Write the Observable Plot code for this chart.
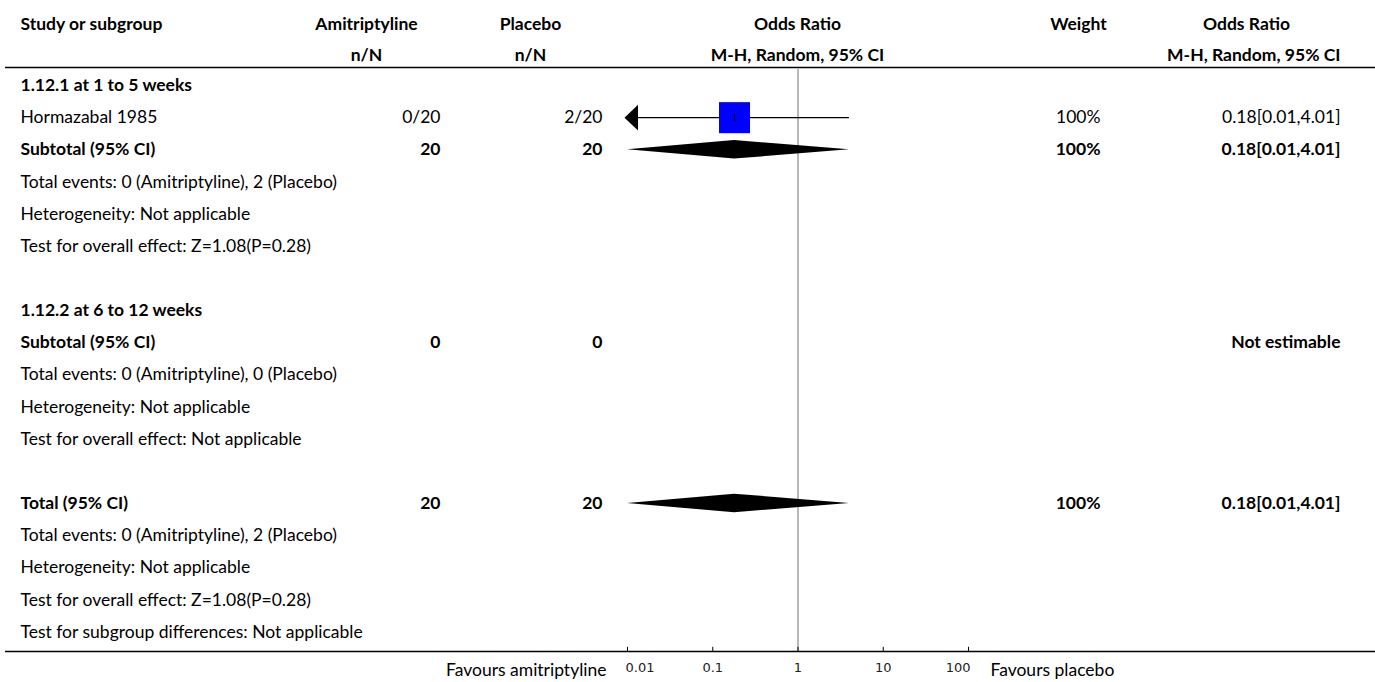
<!DOCTYPE html>
<html>
<head>
<meta charset="utf-8">
<script src="https://cdn.jsdelivr.net/npm/d3@7"></script>
<script src="https://cdn.jsdelivr.net/npm/@observablehq/plot@0.6"></script>
<style>
  html, body { margin: 0; padding: 0; background: #fff; }
  #chart svg { display: block; }
</style>
</head>
<body>
<div id="chart"></div>
<script>
// ---------- DATA ----------
const headerTop = ["Study or subgroup", "Amitriptyline", "Placebo", "Odds Ratio", "Weight", "Odds Ratio"];
const headerSub = ["", "n/N", "n/N", "M-H, Random, 95% CI", "", "M-H, Random, 95% CI"];

const rowLabels = [
  "1.12.1 at 1 to 5 weeks",
  "Hormazabal 1985",
  "Subtotal (95% CI)",
  "Total events: 0 (Amitriptyline), 2 (Placebo)",
  "Heterogeneity: Not applicable",
  "Test for overall effect: Z=1.08(P=0.28)",
  "",
  "1.12.2 at 6 to 12 weeks",
  "Subtotal (95% CI)",
  "Total events: 0 (Amitriptyline), 0 (Placebo)",
  "Heterogeneity: Not applicable",
  "Test for overall effect: Not applicable",
  "",
  "Total (95% CI)",
  "Total events: 0 (Amitriptyline), 2 (Placebo)",
  "Heterogeneity: Not applicable",
  "Test for overall effect: Z=1.08(P=0.28)",
  "Test for subgroup differences: Not applicable"
];
const rowBold = [true, false, true, false, false, false, false, true, true, false, false, false, false, true, false, false, false, false];
const amitriptylineCol = ["", "0/20", "20", "", "", "", "", "", "0", "", "", "", "", "20", "", "", "", ""];
const placeboCol       = ["", "2/20", "20", "", "", "", "", "", "0", "", "", "", "", "20", "", "", "", ""];
const weightCol        = ["", "100%", "100%", "", "", "", "", "", "", "", "", "", "", "100%", "", "", "", ""];
const orCol            = ["", "0.18[0.01,4.01]", "0.18[0.01,4.01]", "", "", "", "", "", "Not estimable", "", "", "", "", "0.18[0.01,4.01]", "", "", "", ""];

// studies (row index, odds ratio, CI, weight %)
const studyRows = [1];
const studyOR = [0.18];
const studyLo = [0.01];
const studyHi = [4.01];
const studyWeight = [100];

// pooled estimates (diamonds)
const pooledRows = [2, 13];
const pooledOR = [0.18, 0.18];
const pooledLo = [0.01, 0.01];
const pooledHi = [4.01, 4.01];

const tickValues = [0.01, 0.1, 1, 10, 100];
const tickLabels = ["0.01", "0.1", "1", "10", "100"];
const favoursLeft = "Favours amitriptyline";
const favoursRight = "Favours placebo";

// ---------- BUILD ----------
const xMin = 0.01, xMax = 100;
const rows = rowLabels.map((label, i) => ({
  i, label, bold: rowBold[i],
  ami: amitriptylineCol[i], pla: placeboCol[i], w: weightCol[i], or: orCol[i]
}));
const studies = studyRows.map((r, k) => ({row: r, or: studyOR[k], lo: studyLo[k], hi: studyHi[k], weight: studyWeight[k]}));
const pooled = pooledRows.map((r, k) => ({row: r, or: pooledOR[k], lo: pooledLo[k], hi: pooledHi[k]}));
const dh = 0.29; // diamond half height in row units
const diamondPts = pooled.flatMap((d, k) => [
  {id: k, x: d.lo, y1: d.row, y2: d.row},
  {id: k, x: d.or, y1: d.row - dh, y2: d.row + dh},
  {id: k, x: d.hi, y1: d.row, y2: d.row}
]);
const headers = headerTop.map((t, k) => ({k, top: t, sub: headerSub[k]}));
const ticks = tickValues.map((v, k) => ({v, label: tickLabels[k], k}));

const leftArrow = {
  draw(context) {
    context.moveTo(-7, 0);
    context.lineTo(6.5, -12.8);
    context.lineTo(6.5, 12.8);
    context.closePath();
  }
};

// column layout (pixel positions)
const colX = {study: 20, amiHead: 366, plaHead: 530, ami: 440, pla: 602, orHead: 797, wHead: 1078, w: 1100, orValHead: 1246, orVal: 1340};
const L = 5; // margin left
const font = "Lato, 'Source Sans Pro', 'Noto Sans', sans-serif";
const axisRow = 17.605;

const textL = (data, opts) => Plot.text(data, {frameAnchor: "left", fill: "#000", ...opts});
const colText = (key, px, anchor) => [
  textL(rows.filter(d => d[key] && !d.bold), {y: "i", text: key, dx: px - L, textAnchor: anchor}),
  textL(rows.filter(d => d[key] && d.bold), {y: "i", text: key, dx: px - L, textAnchor: anchor, fontWeight: "bold"})
];
const head = (k, field, y, px, anchor) =>
  textL(headers.filter(h => h.k === k && h[field]), {y, text: field, dx: px - L, textAnchor: anchor, fontWeight: "bold"});
const tickFont = {fontFamily: "DejaVu Sans", fontSize: "13px", fill: "#222"};

const chart = Plot.plot({
  width: 1375,
  height: 682,
  marginLeft: L,
  marginRight: 0,
  marginTop: 0,
  marginBottom: 0,
  style: {fontFamily: font, fontSize: "17.5px", color: "#000", background: "#fff"},
  x: {type: "log", domain: [xMin, xMax], range: [627, 968], axis: null},
  y: {type: "linear", domain: [0, 17], range: [85, 631.55], axis: null},
  r: {type: "sqrt", domain: [0, 100], range: [0, 17.5]},
  marks: [
    // header
    head(0, "top", -1.9, colX.study, "start"),
    head(1, "top", -1.9, colX.amiHead, "middle"),
    head(1, "sub", -0.95, colX.amiHead, "middle"),
    head(2, "top", -1.9, colX.plaHead, "middle"),
    head(2, "sub", -0.95, colX.plaHead, "middle"),
    head(3, "top", -1.9, colX.orHead, "middle"),
    head(3, "sub", -0.95, colX.orHead, "middle"),
    head(4, "top", -1.9, colX.wHead, "middle"),
    head(5, "top", -1.9, colX.orValHead, "middle"),
    head(5, "sub", -0.95, colX.orVal, "end"),
    // header rule
    Plot.ruleY([0], {dy: -18, stroke: "#000", strokeWidth: 1.5}),
    // reference line at OR = 1
    Plot.ruleX([1], {y1: -0.5, y2: axisRow, stroke: "#a0a0a0", strokeWidth: 1.5}),
    // row labels
    textL(rows.filter(d => d.label && !d.bold), {y: "i", text: "label", dx: colX.study - L, textAnchor: "start"}),
    textL(rows.filter(d => d.label && d.bold), {y: "i", text: "label", dx: colX.study - L, textAnchor: "start", fontWeight: "bold"}),
    // numeric columns
    ...colText("ami", colX.ami, "end"),
    ...colText("pla", colX.pla, "end"),
    ...colText("w", colX.w, "end"),
    ...colText("or", colX.orVal, "end"),
    // study CI lines
    Plot.ruleY(studies, {y: "row", x1: d => Math.max(d.lo, xMin), x2: d => Math.min(d.hi, xMax), stroke: "#000", strokeWidth: 1.3}),
    // left arrows where CI reaches the axis limit
    Plot.dot(studies.filter(d => d.lo <= xMin), {x: () => xMin, y: "row", symbol: leftArrow, fill: "#000", stroke: "none", dx: 4}),
    // study squares
    Plot.dot(studies, {x: "or", y: "row", r: "weight", symbol: "square", fill: "#0000ff", stroke: "none"}),
    Plot.ruleX(studies, {x: "or", y1: d => d.row - 0.125, y2: d => d.row + 0.125, stroke: "#000", strokeWidth: 1}),
    // pooled diamonds
    Plot.areaY(diamondPts, {x: "x", y1: "y1", y2: "y2", z: "id", fill: "#000", curve: "linear"}),
    // bottom axis line
    Plot.ruleY([axisRow], {stroke: "#000", strokeWidth: 1.5}),
    Plot.ruleX(tickValues, {y1: axisRow - 0.13, y2: axisRow, stroke: "#000", strokeWidth: 1}),
    Plot.text(ticks.filter(t => t.k === 0), {x: "v", y: axisRow, dy: 16, text: "label", textAnchor: "start", dx: -2, ...tickFont}),
    Plot.text(ticks.filter(t => t.k > 0 && t.k < ticks.length - 1), {x: "v", y: axisRow, dy: 16, text: "label", textAnchor: "middle", ...tickFont}),
    Plot.text(ticks.filter(t => t.k === ticks.length - 1), {x: "v", y: axisRow, dy: 16, text: "label", textAnchor: "end", dx: 2, ...tickFont}),
    Plot.text([favoursLeft], {x: () => xMin, y: axisRow, dy: 19, dx: -21, text: d => d, textAnchor: "end", fill: "#000"}),
    Plot.text([favoursRight], {x: () => xMax, y: axisRow, dy: 19, dx: 22, text: d => d, textAnchor: "start", fill: "#000"})
  ]
});
document.getElementById("chart").append(chart);
</script>
</body>
</html>
